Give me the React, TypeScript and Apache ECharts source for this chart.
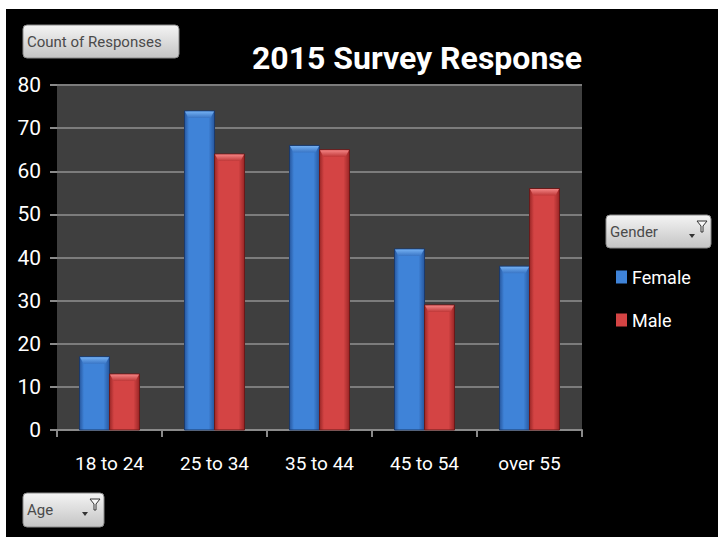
import React, { useEffect, useRef } from "react";
import * as echarts from "echarts";

const categories = ["18 to 24", "25 to 34", "35 to 44", "45 to 54", "over 55"];
const female = [17, 74, 66, 42, 38];
const male = [13, 64, 65, 29, 56];
const seriesNames = ["Female", "Male"];
const chartTitle = "2015 Survey Response";
const valueLabel = "Count of Responses";
const legendTitle = "Gender";
const axisFieldLabel = "Age";

const FONT = "Roboto, 'Liberation Sans', sans-serif";

const palettes = [
  { edge: "#27579e", mid: "#3f83d8", cap: "#74b0f2", capEdge: "#3a76c6", stroke: "#1b3a6c" },
  { edge: "#9a2626", mid: "#d44444", cap: "#f38484", capEdge: "#c03838", stroke: "#6a1a1a" },
];

function makeRender(seriesIdx: number) {
  return (params: any, api: any) => {
    const catIdx = api.value(0);
    const val = api.value(1);
    const top = api.coord([catIdx, val]);
    const base = api.coord([catIdx, 0]);
    const band = api.size([1, 0])[0];
    const bw = band * 0.2857;
    const x = top[0] - bw + seriesIdx * bw;
    const y = top[1];
    const h = base[1] - y;
    const p = palettes[seriesIdx];
    const capH = Math.min(7, h);
    const inset = 4;
    return {
      type: "group",
      children: [
        {
          type: "rect",
          shape: { x, y, width: bw, height: h },
          style: {
            fill: new echarts.graphic.LinearGradient(0, 0, 1, 0, [
              { offset: 0, color: p.edge },
              { offset: 0.15, color: p.mid },
              { offset: 0.8, color: p.mid },
              { offset: 1, color: p.edge },
            ]),
            stroke: p.stroke,
            lineWidth: 1,
          },
        },
        {
          type: "polygon",
          shape: {
            points: [
              [x + 0.5, y + 0.5],
              [x + bw - 0.5, y + 0.5],
              [x + bw - inset, y + capH],
              [x + inset, y + capH],
            ],
          },
          style: {
            fill: new echarts.graphic.LinearGradient(0, 0, 0, 1, [
              { offset: 0, color: p.cap },
              { offset: 1, color: p.capEdge },
            ]),
          },
        },
      ],
    };
  };
}

function button(x: number, y: number, w: number, h: number, label: string, withFilter: boolean) {
  const children: any[] = [
    {
      type: "rect",
      shape: { x, y, width: w, height: h, r: 4 },
      style: {
        fill: new echarts.graphic.LinearGradient(0, 0, 0, 1, [
          { offset: 0, color: "#f4f4f4" },
          { offset: 1, color: "#c4c4c4" },
        ]),
        stroke: "#8a8a8a",
        lineWidth: 1,
      },
    },
    {
      type: "text",
      x: x + 4,
      y: y + h / 2,
      style: {
        text: label,
        fill: "#4a4a4a",
        font: `15px ${FONT}`,
        verticalAlign: "middle",
        align: "left",
      },
    },
  ];
  if (withFilter) {
    const fx = x + w - 14;
    const fy = y + 6;
    children.push(
      {
        type: "polygon",
        shape: { points: [[fx, fy], [fx + 10, fy], [fx + 6, fy + 5], [fx + 6, fy + 11], [fx + 4, fy + 11], [fx + 4, fy + 5]] },
        style: { fill: "#f8f8f8", stroke: "#333", lineWidth: 1 },
      },
      {
        type: "polygon",
        shape: { points: [[fx - 8, fy + 13], [fx - 2, fy + 13], [fx - 5, fy + 17]] },
        style: { fill: "#333" },
      }
    );
  }
  return { type: "group", children };
}

export default function App() {
  const ref = useRef<HTMLDivElement>(null);
  useEffect(() => {
    if (!ref.current) return;
    const chart = echarts.init(ref.current, undefined, { renderer: "svg" });
    const ox = 6;
    const oy = 9;
    chart.setOption({
      animation: false,
      backgroundColor: "#000000",
      title: {
        text: chartTitle,
        left: 412 - ox,
        top: 37 - oy,
        textAlign: "center",
        textStyle: { color: "#ffffff", fontSize: 32, fontWeight: "bold", fontFamily: FONT },
      },
      grid: {
        left: 57 - ox,
        right: 718 - 582,
        top: 85 - oy,
        bottom: 537 - 430,
        show: true,
        backgroundColor: "#3f3f3f",
        borderWidth: 0,
      },
      legend: {
        orient: "vertical",
        left: 611 - ox,
        top: 263 - oy,
        itemWidth: 11,
        itemHeight: 13,
        itemGap: 25,
        icon: "rect",
        textStyle: { color: "#ffffff", fontSize: 18, fontFamily: FONT, padding: [0, 0, 0, 0] },
        data: [
          { name: seriesNames[0], itemStyle: { color: palettes[0].mid } },
          { name: seriesNames[1], itemStyle: { color: palettes[1].mid } },
        ],
      },
      xAxis: {
        type: "category",
        data: categories,
        axisLine: { show: true, lineStyle: { color: "#8a8a8a", width: 2 } },
        axisTick: { show: true, length: 7, lineStyle: { color: "#8a8a8a", width: 2 } },
        axisLabel: { color: "#ffffff", fontSize: 19, fontFamily: FONT, margin: 24, interval: 0 },
      },
      yAxis: {
        type: "value",
        min: 0,
        max: 80,
        interval: 10,
        axisLine: { show: false },
        axisTick: { show: true, length: 7, lineStyle: { color: "#8a8a8a", width: 2 } },
        splitLine: { show: true, lineStyle: { color: "#7c7c7c", width: 2 } },
        axisLabel: { color: "#ffffff", fontSize: 21, fontFamily: FONT, margin: 16 },
      },
      series: [female, male].map((vals, si) => ({
        type: "custom",
        name: seriesNames[si],
        itemStyle: { color: palettes[si].mid },
        encode: { x: 0, y: 1 },
        data: vals.map((v, i) => [i, v]),
        renderItem: makeRender(si),
      })),
      graphic: [
        button(23 - ox, 25 - oy, 156, 33, valueLabel, false),
        button(606 - ox, 215 - oy, 105, 33, legendTitle, true),
        button(23 - ox, 493 - oy, 81, 34, axisFieldLabel, true),
      ],
    });
    return () => chart.dispose();
  }, []);
  return (
    <div style={{ position: "fixed", left: 0, top: 0, width: 718, height: 537, background: "#ffffff" }}>
      <div ref={ref} style={{ position: "absolute", left: 6, top: 9, width: 712, height: 528 }} />
    </div>
  );
}
